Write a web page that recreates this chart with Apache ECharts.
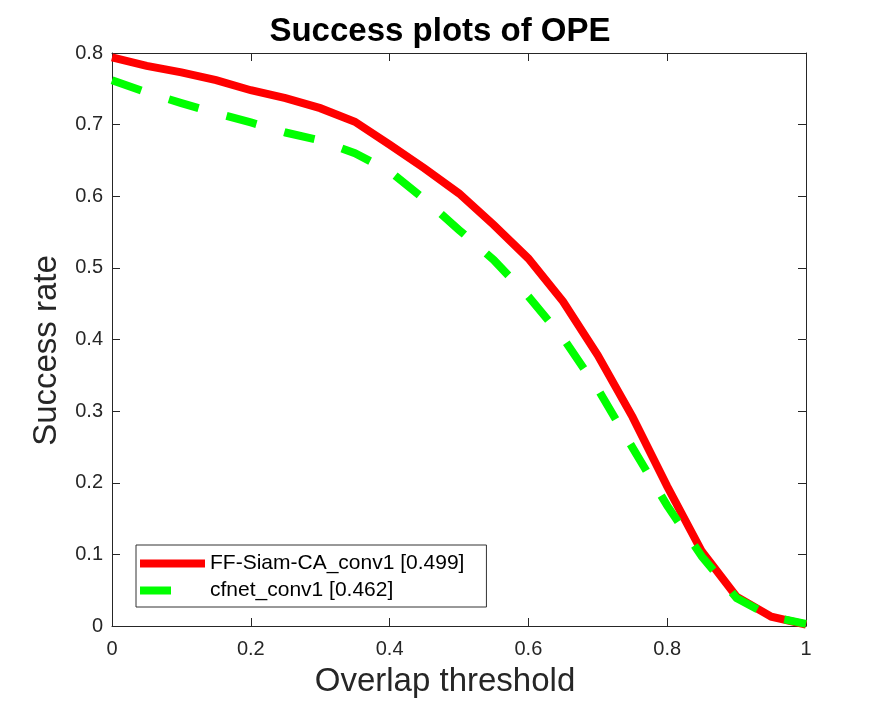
<!DOCTYPE html>
<html>
<head>
<meta charset="utf-8">
<script src="https://cdn.jsdelivr.net/npm/echarts@6/dist/echarts.min.js"></script>
<style>html,body{margin:0;padding:0;background:#fff}#c{width:892px;height:705px}</style>
</head>
<body>
<div id="c"></div>
<script>
var thresholds = [0,0.05,0.1,0.15,0.2,0.25,0.3,0.35,0.4,0.45,0.5,0.55,0.6,0.65,0.7,0.75,0.8,0.85,0.9,0.95,1];
var ffSiam = [0.794,0.782,0.773,0.762,0.748,0.737,0.723,0.704,0.672,0.639,0.604,0.560,0.513,0.453,0.378,0.292,0.195,0.104,0.041,0.013,0.002];
var cfnet  = [0.762,0.745,0.730,0.716,0.703,0.689,0.678,0.660,0.635,0.596,0.553,0.511,0.460,0.402,0.331,0.249,0.168,0.097,0.039,0.013,0.003];
var seriesNames = ['FF-Siam-CA_conv1 [0.499]', 'cfnet_conv1 [0.462]'];

function pairs(ys){ return thresholds.map(function(x,i){ return [x, ys[i]]; }); }

var font = '"Liberation Sans",Arial,Helvetica,sans-serif';
var axisCol = '#262626';
var chart = echarts.init(document.getElementById('c'), null, {renderer:'canvas'});
var baseAxis = {
  axisLine:{show:true,onZero:false,lineStyle:{color:axisCol,width:1}},
  axisTick:{show:true,inside:true,length:8,lineStyle:{color:axisCol}},
  splitLine:{show:false}
};
chart.setOption({
  animation:false,
  backgroundColor:'#fff',
  title:{text:'Success plots of OPE',left:435,textAlign:'center',top:10,
    textStyle:{fontFamily:font,fontWeight:'bold',fontSize:33,color:'#000'}},
  grid:{left:112,right:86,top:53,bottom:79,containLabel:false},
  legend:{
    orient:'vertical',left:136,top:545,
    backgroundColor:'#fff',borderColor:'#333',borderWidth:1,borderRadius:0,
    padding:[8,22,6,4],itemGap:6,itemWidth:65,itemHeight:8,
    textStyle:{fontFamily:font,fontSize:21,color:'#000'},
    itemStyle:{borderWidth:0},
    data:[
      {name:seriesNames[0],icon:'rect',itemStyle:{color:'#ff0000',borderWidth:0}},
      {name:seriesNames[1],icon:'path://M0,0H31V8H0Z M65,0 L65,8',itemStyle:{color:'#00ff00',borderWidth:0}}
    ]
  },
  xAxis:[
    Object.assign({type:'value',min:0,max:1,interval:0.2,position:'bottom',
      name:'Overlap threshold',nameLocation:'middle',nameGap:39,
      nameTextStyle:{fontFamily:font,fontSize:33,color:axisCol,padding:[0,28,0,0]},
      axisLabel:{fontFamily:font,fontSize:20,color:axisCol,margin:13}}, baseAxis),
    Object.assign({type:'value',min:0,max:1,interval:0.2,position:'top',axisLabel:{show:false}}, baseAxis)
  ],
  yAxis:[
    Object.assign({type:'value',min:0,max:0.8,interval:0.1,position:'left',
      name:'Success rate',nameLocation:'middle',nameGap:49,
      nameTextStyle:{fontFamily:font,fontSize:33,color:axisCol,padding:[0,22,0,0]},
      axisLabel:{fontFamily:font,fontSize:20,color:axisCol,margin:9}}, baseAxis),
    Object.assign({type:'value',min:0,max:0.8,interval:0.1,position:'right',axisLabel:{show:false}}, baseAxis)
  ],
  series:[
    {name:seriesNames[0],type:'line',data:pairs(ffSiam),symbol:'none',z:2,
      lineStyle:{color:'#ff0000',width:8,cap:'butt',join:'miter'},itemStyle:{color:'#ff0000'}},
    {name:seriesNames[1],type:'line',data:pairs(cfnet),symbol:'none',z:3,
      lineStyle:{color:'#00ff00',width:8,type:[31,29],cap:'butt',join:'miter'},itemStyle:{color:'#00ff00'}}
  ]
});
</script>
</body>
</html>
